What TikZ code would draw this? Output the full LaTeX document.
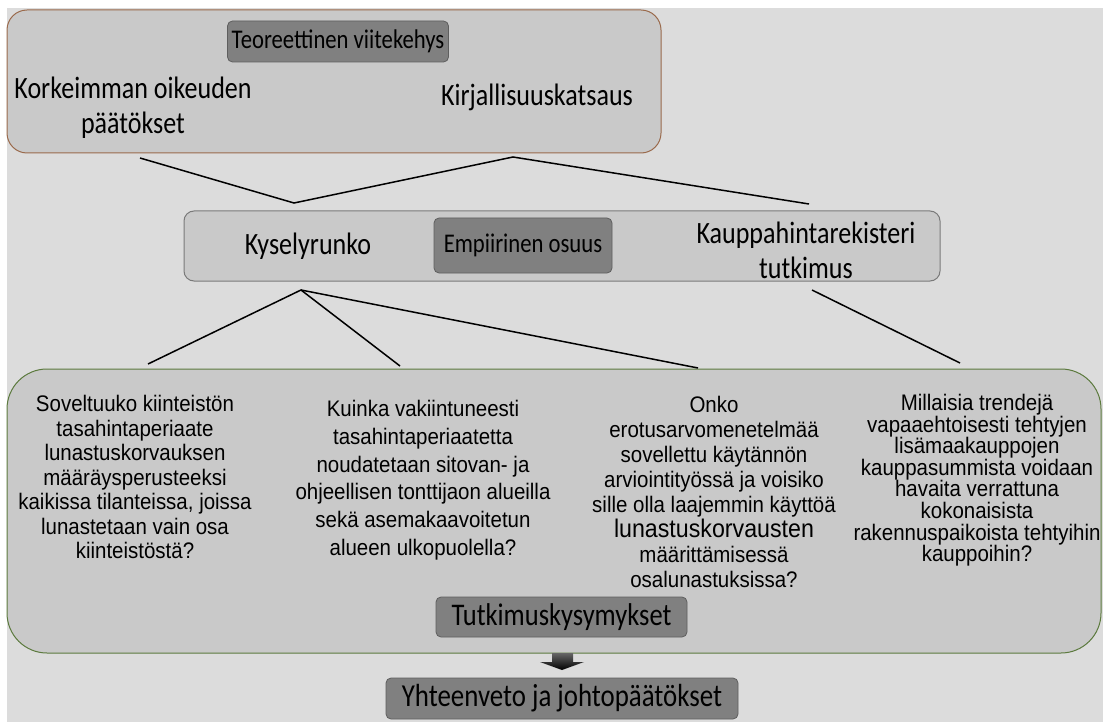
\documentclass[tikz,border=0pt]{standalone}
\usepackage{fontspec}
\setmainfont{Liberation Sans}
\newfontfamily\calfont[FakeStretch=0.84]{Carlito}
\newfontfamily\qfont[FakeStretch=0.91]{Liberation Sans}
\usepackage{xcolor}
\usepackage{tikz}
\usetikzlibrary{positioning}

\definecolor{bggray}{HTML}{DCDCDC}
\definecolor{boxgray}{HTML}{C9C9C9}
\definecolor{taggray}{HTML}{808080}
\definecolor{tagline}{HTML}{5E5E5E}
\definecolor{brownline}{HTML}{9A6A4C}
\definecolor{greenline}{HTML}{5C7A3E}
\definecolor{midline}{HTML}{7A7A7A}

\begin{document}
\begin{tikzpicture}[x=1pt, y=-1pt]
\tikzstyle{frame} = [rectangle, draw, fill=boxgray, line width=1pt, inner sep=0pt]
\tikzstyle{tag} = [rectangle, draw=tagline, fill=taggray, rounded corners=5pt, line width=0.8pt, inner sep=0pt, font=\calfont\fontsize{27}{30}\selectfont]
\tikzstyle{big} = [align=center, inner sep=0pt, font=\calfont\fontsize{31}{35}\selectfont]
\tikzstyle{quest} = [align=center, inner sep=0pt, anchor=north]
\tikzstyle{link} = [line width=1.5pt, black]

\useasboundingbox (0,0) rectangle (1103,722);
\fill[white] (0,0) rectangle (1103,722);
\fill[bggray] (7,8) rectangle (1103,722);

% theory
\node (theory) [frame, draw=brownline, rounded corners=20pt, minimum width=654pt, minimum height=143pt] at (334,81.5) {};
\node (teor) [tag, minimum width=221pt, minimum height=41pt] at (338,41.5) {Teoreettinen viitekehys};
\node (kko) [big] at (133,108) {Korkeimman oikeuden\\päätökset};
\node (kirj) [big] at (537,97) {Kirjallisuuskatsaus};

% empirical part
\node (empir) [frame, draw=midline, rounded corners=10pt, minimum width=756pt, minimum height=70pt] at (562,246) {};
\node (emp) [tag, minimum width=178pt, minimum height=55pt] at (523,245.5) {Empiirinen osuus};
\node (kysely) [big] at (308,246) {Kyselyrunko};
\node (kauppa) [big] at (806,250) {Kauppahintarekisteri\\tutkimus};

% questions
\node (quest) [frame, draw=greenline, rounded corners=40pt, minimum width=1094pt, minimum height=284pt] at (554,511) {};
\node (q1) [quest, font=\qfont\fontsize{22.5}{24.5}\selectfont] at (135,395) {Soveltuuko kiinteistön\\tasahintaperiaate\\lunastuskorvauksen\\määräysperusteeksi\\kaikissa tilanteissa, joissa\\lunastetaan vain osa\\kiinteistöstä?};
\node (q2) [quest, font=\qfont\fontsize{22.5}{27.8}\selectfont] at (423,400) {Kuinka vakiintuneesti\\tasahintaperiaatetta\\noudatetaan sitovan- ja\\ohjeellisen tonttijaon alueilla\\sekä asemakaavoitetun\\alueen ulkopuolella?};
\node (q3) [quest, font=\qfont\fontsize{22.5}{25}\selectfont] at (714,396) {Onko\\erotusarvomenetelmää\\sovellettu käytännön\\arviointityössä ja voisiko\\sille olla laajemmin käyttöä\\{\fontsize{25.5}{25}\selectfont lunastuskorvausten}\\määrittämisessä\\osalunastuksissa?};
\node (q4) [quest, font=\qfont\fontsize{22.5}{21.6}\selectfont] at (977,394) {Millaisia trendejä\\vapaaehtoisesti tehtyjen\\lisämaakauppojen\\kauppasummista voidaan\\havaita verrattuna\\kokonaisista\\rakennuspaikoista tehtyihin\\kauppoihin?};
\node (tutk) [tag, minimum width=251pt, minimum height=40pt, font=\calfont\fontsize{31.5}{32}\selectfont] at (561.5,617) {Tutkimuskysymykset};

% result
\node (yht) [tag, minimum width=352pt, minimum height=41pt, font=\calfont\fontsize{32}{32}\selectfont] at (562,698.5) {Yhteenveto ja johtopäätökset};
\shade[top color=taggray!80!black, bottom color=black] (552,653) -- (573,653) -- (573,662) -- (584,662) -- (562,670) -- (540,662) -- (552,662) -- cycle;

% connectors
\coordinate (kko-end) at (140,158);
\coordinate (kirj-end) at (513,157);
\coordinate (kysely-top) at (294,203);
\coordinate (kauppa-top) at (809,204);
\coordinate (kysely-bot) at (301,290);
\coordinate (kauppa-bot) at (812,290);
\coordinate (q1-top) at (148,364);
\coordinate (q2-top) at (400,366);
\coordinate (q3-top) at (698,368);
\coordinate (q4-top) at (960,363);

\draw [link] (kko-end) -- (kysely-top) -- (kirj-end) -- (kauppa-top);
\draw [link] (q1-top) -- (kysely-bot) -- (q2-top);
\draw [link] (kysely-bot) -- (q3-top);
\draw [link] (kauppa-bot) -- (q4-top);

\end{tikzpicture}
\end{document}
